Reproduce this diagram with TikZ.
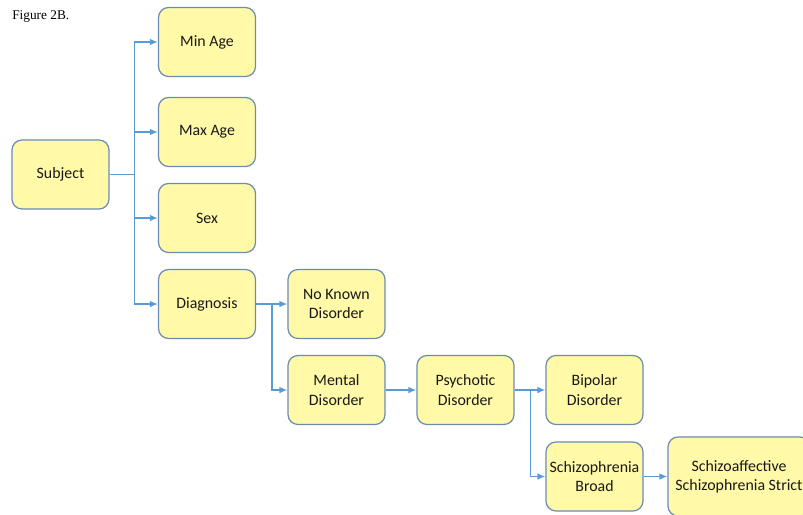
\documentclass[tikz,border=0pt]{standalone}
\usepackage{fontspec}
\setmainfont{Carlito}
\newfontfamily\captionfont{Liberation Serif}
\usetikzlibrary{arrows.meta}

\definecolor{boxfill}{HTML}{FFF9A8}
\definecolor{boxline}{HTML}{6A8CB3}
\definecolor{linkblue}{HTML}{5B9BD5}

\begin{document}
\begin{tikzpicture}[x=0.75pt, y=-0.75pt,
    entity/.style={draw=boxline, line width=0.9pt, fill=boxfill, rounded corners=7.5pt,
        minimum width=72.75pt, minimum height=51.75pt, align=center, inner sep=1pt,
        text=black!90, font=\fontsize{11.9}{14.5}\selectfont},
    trunkline/.style={draw=linkblue, line width=1.1pt},
    link/.style={trunkline, -{Latex[length=6pt,width=5pt]}}]
    \useasboundingbox (0,0) rectangle (803,514);
    % Caption
    \node[anchor=west, inner sep=0pt, font=\captionfont\fontsize{10}{12}\selectfont] (caption) at (12,17) {Figure 2B.};
    % Subject and its attributes
    \node[entity] (subject) at (60.5,174.5) {Subject};
    \node[entity] (minage) at (207,42) {Min Age};
    \node[entity] (maxage) at (207,132) {Max Age};
    \node[entity] (sex) at (207,218) {Sex};
    \node[entity] (diagnosis) at (207,304) {Diagnosis};
    % Diagnosis tree
    \node[entity] (noknown) at (336.5,304) {No Known\\Disorder};
    \node[entity] (mental) at (336.5,390) {Mental\\Disorder};
    \node[entity] (psychotic) at (465.5,390) {Psychotic\\Disorder};
    \node[entity] (bipolar) at (594.5,390) {Bipolar\\Disorder};
    \node[entity] (schizbroad) at (594.5,476.5) {Schizophrenia\\Broad};
    \node[entity, minimum width=106.5pt, minimum height=59.25pt] (schizstrict) at (739,476.5) {Schizoaffective\\Schizophrenia Strict};
    % Connectors
    \draw[trunkline] (subject.east) -- ++(25,0) coordinate (trunk);
    \foreach \n in {minage,maxage,sex,diagnosis}
        \draw[link] (trunk) |- (\n.west);
    \draw[trunkline] (diagnosis.east) -- ++(16,0) coordinate (dxsplit);
    \foreach \n in {noknown,mental}
        \draw[link] (dxsplit) |- (\n.west);
    \draw[link] (mental) -- (psychotic);
    \draw[trunkline] (psychotic.east) -- ++(16,0) coordinate (psysplit);
    \foreach \n in {bipolar,schizbroad}
        \draw[link] (psysplit) |- (\n.west);
    \draw[link] (schizbroad) -- (schizstrict);
\end{tikzpicture}
\end{document}
